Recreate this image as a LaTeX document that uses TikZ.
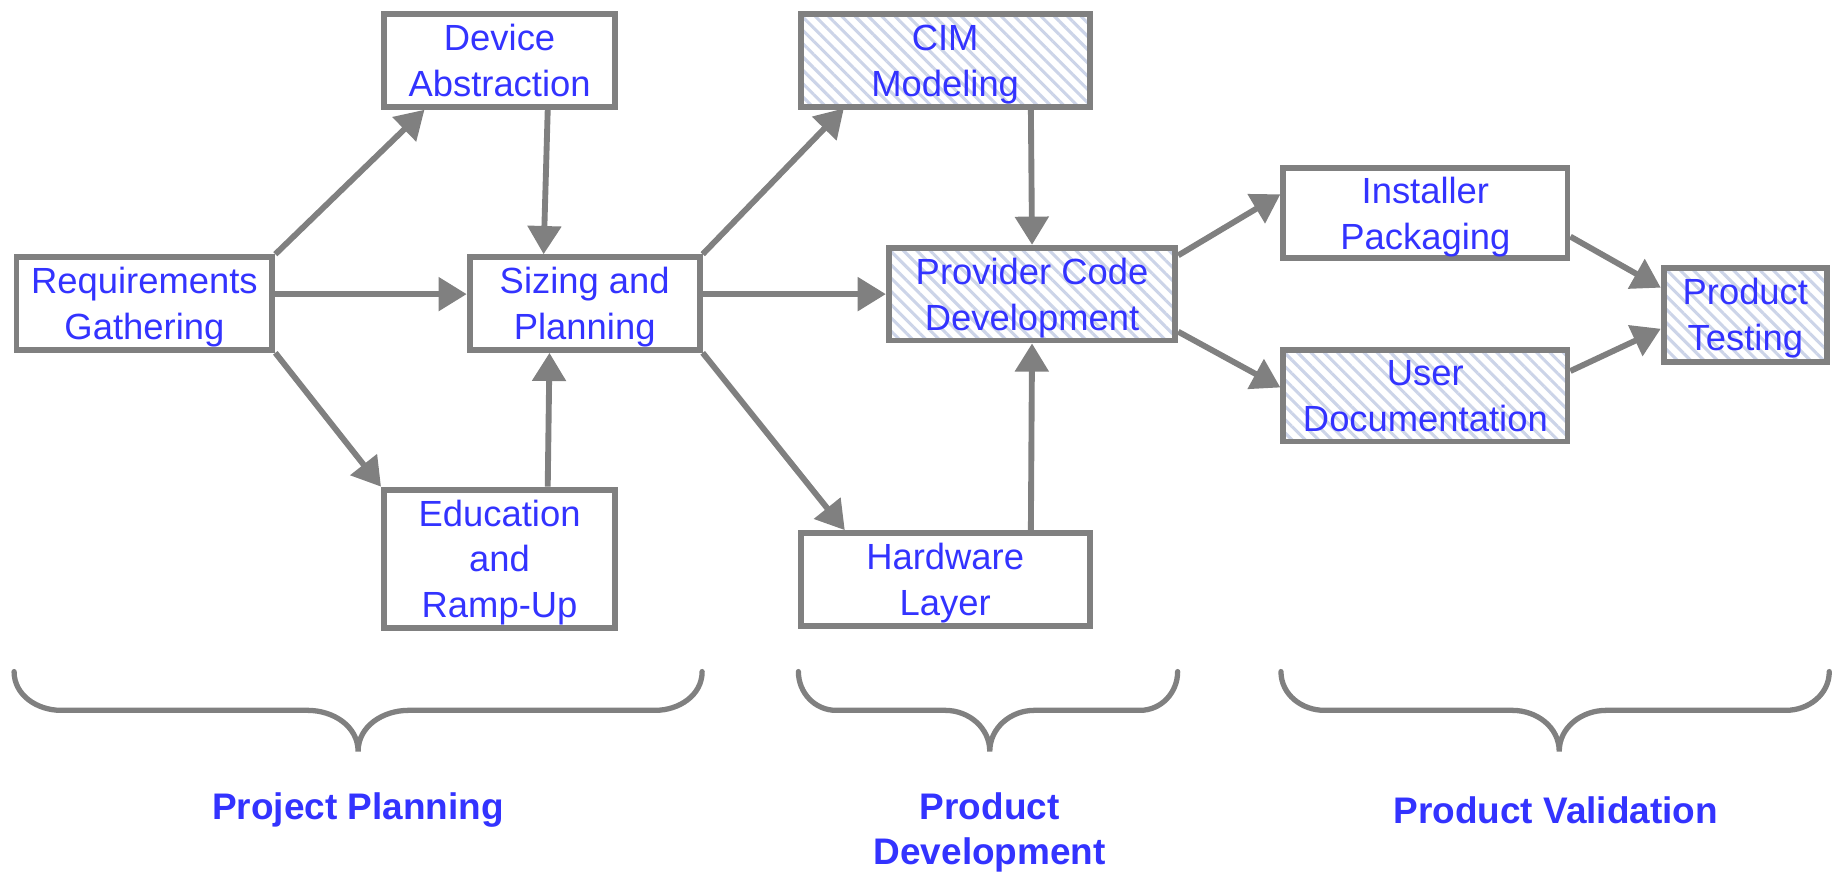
\documentclass[tikz,border=0pt]{standalone}
\usepackage{fontspec}
\setmainfont{Liberation Sans}
\usetikzlibrary{arrows.meta,patterns.meta,calc}
\definecolor{txtblue}{RGB}{51,51,255}
\definecolor{edgegray}{RGB}{128,128,128}
\definecolor{hatchcol}{RGB}{204,212,232}
\newcommand{\firstln}[1]{\rule{0pt}{22.2pt}\smash{#1}}
\newcommand{\restln}[1]{\smash{#1}}
\begin{document}
\begin{tikzpicture}[x=1pt,y=-1pt,
  box/.style={draw=edgegray, line width=5pt, fill=white, text=txtblue, align=center,
    font=\fontsize{31}{39}\selectfont, inner sep=0pt},
  hatched/.style={draw=edgegray, line width=5pt, text=txtblue, align=center,
    font=\fontsize{31}{39}\selectfont, inner sep=0pt,
    preaction={fill=white},
    pattern={Lines[angle=-45,distance=8pt,line width=2.6pt]}, pattern color=hatchcol},
  arr/.style={draw=edgegray, line width=5pt, -{Triangle[length=24pt,width=28pt]}},
  brace/.style={draw=edgegray, line width=4.5pt, line cap=round},
  lab/.style={text=txtblue, font=\fontsize{31.5}{38}\selectfont\bfseries, align=center}]
\useasboundingbox (0,0) rectangle (1568,745);

% nodes
\node[box, minimum width=218pt, minimum height=79pt] (req) at (123,258.5) {\firstln{Requirements}\\\restln{Gathering}};
\node[box, minimum width=197pt, minimum height=79pt] (dev) at (425.5,51.5) {\firstln{Device}\\\restln{Abstraction}};
\node[box, minimum width=196pt, minimum height=79pt] (siz) at (498,258.5) {\firstln{Sizing and}\\\restln{Planning}};
\node[box, minimum width=197pt, minimum height=118pt] (edu) at (425.5,476) {\firstln{Education}\\\restln{and}\\\restln{Ramp-Up}};
\node[hatched, minimum width=246pt, minimum height=79pt] (cim) at (805,51.5) {\firstln{CIM}\\\restln{Modeling}};
\node[hatched, minimum width=244pt, minimum height=79pt] (prov) at (879,250.5) {\firstln{Provider Code}\\\restln{Development}};
\node[box, minimum width=246pt, minimum height=79pt] (hw) at (805,493.5) {\firstln{Hardware}\\\restln{Layer}};
\node[box, minimum width=242pt, minimum height=77pt] (inst) at (1214,181.5) {\firstln{Installer}\\\restln{Packaging}};
\node[hatched, minimum width=242pt, minimum height=78pt] (udoc) at (1214,337) {\firstln{User}\\\restln{Documentation}};
\node[hatched, minimum width=139pt, minimum height=80pt] (ptest) at (1486.5,268) {\firstln{Product}\\\restln{Testing}};

% connectors
\draw[arr] (req.north east) -- ($(dev.south west)+(37,0)$);
\draw[arr] ($(req.east)+(0,-8)$) -- ($(siz.west)+(0,-8)$);
\draw[arr] (req.south east) -- (edu.north west);
\draw[arr] ($(dev.south)+(41,0)$) -- ($(siz.north)+(-35,0)$);
\draw[arr] ($(edu.north)+(41,0)$) -- ($(siz.south)+(-30,0)$);
\draw[arr] (siz.north east) -- ($(cim.south west)+(38,0)$);
\draw[arr] ($(siz.east)+(0,-8)$) -- ($(prov.west)+(0,0)$);
\draw[arr] (siz.south east) -- ($(hw.north west)+(40,0)$);
\draw[arr] ($(cim.south)+(73,0)$) -- (prov.north);
\draw[arr] ($(hw.north)+(73,0)$) -- (prov.south);
\draw[arr] ($(prov.east)+(0,-33)$) -- ($(inst.west)+(0,-16)$);
\draw[arr] ($(prov.east)+(0,32)$) -- ($(udoc.west)+(0,-7)$);
\draw[arr] ($(inst.east)+(0,20)$) -- ($(ptest.west)+(0,-23)$);
\draw[arr] ($(udoc.east)+(0,-21)$) -- ($(ptest.west)+(0,12)$);

% braces
\coordinate (b1l) at (12,572);
\coordinate (b1m) at (305,640);
\coordinate (b1r) at (598,572);
\draw[brace] (b1l) to[out=-90,in=180] (52,605) -- (262,605) to[out=0,in=90] (b1m)
  to[out=90,in=180] (348,605) -- (558,605) to[out=0,in=-90] (b1r);
\coordinate (b2l) at (680,572);
\coordinate (b2m) at (843,640);
\coordinate (b2r) at (1003,572);
\draw[brace] (b2l) to[out=-90,in=180] (712,605) -- (805,605) to[out=0,in=90] (b2m)
  to[out=90,in=180] (881,605) -- (971,605) to[out=0,in=-90] (b2r);
\coordinate (b3l) at (1091,572);
\coordinate (b3m) at (1328,640);
\coordinate (b3r) at (1558,572);
\draw[brace] (b3l) to[out=-90,in=180] (1128,605) -- (1288,605) to[out=0,in=90] (b3m)
  to[out=90,in=180] (1368,605) -- (1521,605) to[out=0,in=-90] (b3r);

% labels
\node[lab] (l1) at (305,690) {Project Planning};
\node[lab] (l2) at (843,709) {Product\\Development};
\node[lab] (l3) at (1325,690) {Product Validation};
\end{tikzpicture}
\end{document}
